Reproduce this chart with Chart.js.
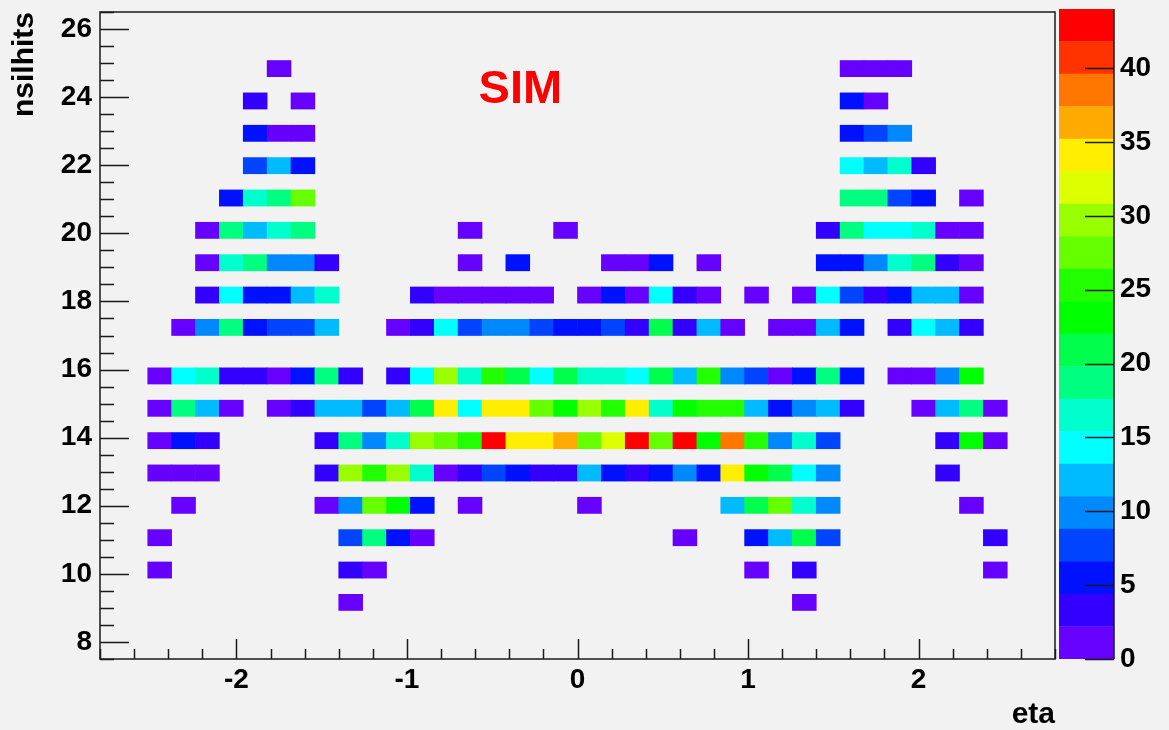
<!DOCTYPE html>
<html>
<head>
<meta charset="utf-8">
<title>nsilhits vs eta</title>
<script src="https://cdn.jsdelivr.net/npm/chart.js@4.4.1/dist/chart.umd.min.js"></script>
<style>
  html, body { margin: 0; padding: 0; background: #f2f2f2; }
  #wrap { position: relative; width: 1169px; height: 730px; }
  #main { position: absolute; left: 0; top: 0; }
  #zaxis { position: absolute; left: 1040px; top: 0; }
</style>
</head>
<body>
<div id="wrap">
  <canvas id="main" width="1169" height="730"></canvas>
  <canvas id="zaxis" width="129" height="730"></canvas>
</div>
<script>
// TH2 binning: 40 bins in eta, 40 bins in nsilhits
const ETA_MIN = -2.8, ETA_MAX = 2.8, ETA_BINS = 40;
const HITS_MIN = 7.5, HITS_MAX = 26.5, HITS_BINS = 40;

const xTicks = [-2, -1, 0, 1, 2];
const yTicks = [8, 10, 12, 14, 16, 18, 20, 22, 24, 26];
const zTicks = [0, 5, 10, 15, 20, 25, 30, 35, 40];

// bin contents per nsilhits value, one entry per eta bin (0 = empty)
const row25 = [0,0,0,0,0,0,0,1,0,0, 0,0,0,0,0,0,0,0,0,0, 0,0,0,0,0,0,0,0,0,0, 0,1,1,1,0,0,0,0,0,0];
const row24 = [0,0,0,0,0,0,3,0,1,0, 0,0,0,0,0,0,0,0,0,0, 0,0,0,0,0,0,0,0,0,0, 0,5,1,0,0,0,0,0,0,0];
const row23 = [0,0,0,0,0,0,5,1,1,0, 0,0,0,0,0,0,0,0,0,0, 0,0,0,0,0,0,0,0,0,0, 0,5,8,10,0,0,0,0,0,0];
const row22 = [0,0,0,0,0,0,8,12,5,0, 0,0,0,0,0,0,0,0,0,0, 0,0,0,0,0,0,0,0,0,0, 0,14,12,16,3,0,0,0,0,0];
const row21 = [0,0,0,0,0,5,16,19,27,0, 0,0,0,0,0,0,0,0,0,0, 0,0,0,0,0,0,0,0,0,0, 0,19,19,8,5,0,1,0,0,0];
const row20 = [0,0,0,0,1,19,12,16,19,0, 0,0,0,0,0,1,0,0,0,1, 0,0,0,0,0,0,0,0,0,0, 3,19,14,14,16,1,1,0,0,0];
const row19 = [0,0,0,0,1,16,19,10,10,3, 0,0,0,0,0,1,0,5,0,0, 0,1,1,5,0,1,0,0,0,0, 5,5,10,16,19,3,1,0,0,0];
const row18 = [0,0,0,0,3,14,5,5,12,16, 0,0,0,3,1,1,1,1,1,0, 1,5,1,14,3,1,0,1,0,1, 14,8,3,5,12,12,1,0,0,0];
const row17 = [0,0,0,1,10,19,5,8,8,12, 0,0,1,3,14,8,10,10,8,5, 5,8,3,21,3,12,1,0,1,1, 12,5,0,3,14,12,3,0,0,0];
const row16 = [0,0,1,14,16,3,3,1,5,19, 3,0,3,14,30,16,25,21,14,21, 16,16,14,21,12,25,10,8,1,5, 19,5,0,1,1,10,23,0,0,0];
const row15 = [0,0,1,19,12,1,0,1,3,12, 12,8,12,21,34,14,34,34,27,23, 30,25,34,16,23,25,25,12,5,10, 12,3,0,0,1,12,19,1,0,0];
const row14 = [0,0,1,5,3,0,0,0,0,3, 19,10,16,30,27,25,43,34,34,36, 27,32,44,27,43,23,38,25,10,16, 8,0,0,0,0,3,23,1,0,0];
const row13 = [0,0,1,1,1,0,0,0,0,3, 30,25,30,16,1,3,8,5,3,3, 12,5,3,5,10,5,34,23,21,14, 10,0,0,0,0,3,0,0,0,0];
const row12 = [0,0,0,1,0,0,0,0,0,1, 10,27,23,5,0,1,0,0,0,0, 1,0,0,0,0,0,12,21,27,16, 10,0,0,0,0,0,1,0,0,0];
const row11 = [0,0,1,0,0,0,0,0,0,0, 8,19,5,1,0,0,0,0,0,0, 0,0,0,0,1,0,0,5,12,21, 8,0,0,0,0,0,0,3,0,0];
const row10 = [0,0,1,0,0,0,0,0,0,0, 3,1,0,0,0,0,0,0,0,0, 0,0,0,0,0,0,0,1,0,3, 0,0,0,0,0,0,0,1,0,0];
const row9  = [0,0,0,0,0,0,0,0,0,0, 1,0,0,0,0,0,0,0,0,0, 0,0,0,0,0,0,0,0,0,1, 0,0,0,0,0,0,0,0,0,0];

const nsilhits = [25, 24, 23, 22, 21, 20, 19, 18, 17, 16, 15, 14, 13, 12, 11, 10, 9];
const rowCounts = [row25, row24, row23, row22, row21, row20, row19, row18, row17,
                   row16, row15, row14, row13, row12, row11, row10, row9];

// ROOT rainbow palette, 20 contour levels
const palette = ['#6600ff', '#3300ff', '#0011ff', '#0044ff', '#0088ff', '#00bbff', '#00ffff',
  '#00ffcc', '#00ff80', '#00ff4c', '#00ff00', '#22ff00', '#66ff00', '#99ff00', '#ddff00',
  '#ffee00', '#ffaa00', '#ff7700', '#ff3300', '#ff0000'];

const FAMILY = '"Liberation Sans", Arial, Helvetica, sans-serif';
const tickFont = { family: FAMILY, size: 28, weight: 'bold' };
const titleFont = { family: FAMILY, size: 30, weight: 'bold', lineHeight: 1 };

// build the cells from the histogram bins
const etaWidth = (ETA_MAX - ETA_MIN) / ETA_BINS;
const hitsWidth = (HITS_MAX - HITS_MIN) / HITS_BINS;
const cells = [];
nsilhits.forEach((n, r) => {
  const bin = Math.floor((n - HITS_MIN) / hitsWidth + 1e-9);
  const lo = HITS_MIN + bin * hitsWidth;
  rowCounts[r].forEach((c, i) => {
    if (c > 0) {
      cells.push({ x: ETA_MIN + (i + 0.5) * etaWidth, y: [lo, lo + hitsWidth], v: c });
    }
  });
});
const zMax = Math.max(...cells.map(c => c.v));
const zStep = zMax / palette.length;

function colourFor(v) {
  return palette[Math.min(palette.length - 1, Math.floor(v / zStep))];
}

// frame, inward tick marks and the SIM label
const framePlugin = {
  id: 'frame',
  afterDraw(chart) {
    const { ctx, chartArea: a } = chart;
    const x = chart.scales.x, y = chart.scales.y;
    ctx.save();
    ctx.strokeStyle = '#1a1a1a';
    ctx.lineWidth = 1.5;
    ctx.strokeRect(a.left, a.top, a.right - a.left, a.bottom - a.top);
    ctx.beginPath();
    for (let k = 0; k <= 28; k++) {
      const v = ETA_MIN + k * 0.2;
      const px = Math.round(x.getPixelForValue(v)) + 0.5;
      const major = Math.abs(v - Math.round(v)) < 1e-6;
      ctx.moveTo(px, a.bottom);
      ctx.lineTo(px, a.bottom - (major ? 20 : 10));
    }
    for (let k = 0; k <= 38; k++) {
      const v = HITS_MIN + k * 0.5;
      const py = Math.round(y.getPixelForValue(v)) + 0.5;
      const major = Math.abs(v / 2 - Math.round(v / 2)) < 1e-6;
      ctx.moveTo(a.left, py);
      ctx.lineTo(a.left + (major ? 29 : 14), py);
    }
    ctx.stroke();

    ctx.fillStyle = '#ff0000';
    ctx.font = 'bold 47px ' + FAMILY;
    ctx.textAlign = 'left';
    ctx.textBaseline = 'alphabetic';
    ctx.fillText('SIM', x.getPixelForValue(-0.58), y.getPixelForValue(23.84));
    ctx.restore();
  }
};

new Chart(document.getElementById('main'), {
  type: 'bar',
  data: {
    datasets: [{
      data: cells,
      backgroundColor: (c) => colourFor(c.raw ? c.raw.v : 0),
      borderWidth: 0,
      barPercentage: 1,
      categoryPercentage: 1
    }]
  },
  options: {
    responsive: false,
    animation: false,
    events: [],
    layout: { padding: { top: 12, right: 114, bottom: 0, left: 0 } },
    plugins: { legend: { display: false }, tooltip: { enabled: false } },
    scales: {
      x: {
        type: 'linear',
        min: ETA_MIN,
        max: ETA_MAX,
        offset: false,
        grid: { display: false, drawTicks: false },
        border: { display: false },
        afterBuildTicks: (s) => { s.ticks = xTicks.map(v => ({ value: v })); },
        afterFit: (s) => { s.height = 71; s.paddingLeft = 0; s.paddingRight = 0; },
        ticks: { padding: 4, autoSkip: false, maxRotation: 0, color: '#000', font: tickFont },
        title: { display: true, text: 'eta', align: 'end', color: '#000', font: titleFont,
                 padding: { top: 0, bottom: 0 } }
      },
      y: {
        type: 'linear',
        min: HITS_MIN,
        max: HITS_MAX,
        grid: { display: false, drawTicks: false },
        border: { display: false },
        afterBuildTicks: (s) => { s.ticks = yTicks.map(v => ({ value: v })); },
        afterFit: (s) => { s.width = 100; s.paddingTop = 0; s.paddingBottom = 0; },
        ticks: { padding: 8, autoSkip: false, color: '#000', font: tickFont },
        title: { display: true, text: 'nsilhits', align: 'end', color: '#000', font: titleFont,
                 padding: { top: 10, bottom: 0 } }
      }
    }
  },
  plugins: [framePlugin]
});

// colour scale on the right
const zAxisPlugin = {
  id: 'zframe',
  afterDraw(chart) {
    const { ctx, chartArea: a } = chart;
    const y = chart.scales.y;
    ctx.save();
    ctx.strokeStyle = '#1a1a1a';
    ctx.lineWidth = 1.5;
    ctx.beginPath();
    ctx.moveTo(a.right, a.top);
    ctx.lineTo(a.right, a.bottom);
    zTicks.forEach(v => {
      const py = Math.round(y.getPixelForValue(v)) + 0.5;
      ctx.moveTo(a.right - 29, py);
      ctx.lineTo(a.right, py);
    });
    ctx.stroke();
    ctx.restore();
  }
};

new Chart(document.getElementById('zaxis'), {
  type: 'bar',
  data: {
    labels: [''],
    datasets: palette.map(col => ({
      data: [zStep],
      backgroundColor: col,
      borderWidth: 0,
      barPercentage: 1,
      categoryPercentage: 1
    }))
  },
  options: {
    responsive: false,
    animation: false,
    events: [],
    layout: { padding: { top: 9, right: 0, bottom: 71, left: 19 } },
    plugins: { legend: { display: false }, tooltip: { enabled: false } },
    scales: {
      x: { display: false, stacked: true },
      y: {
        stacked: true,
        position: 'right',
        min: 0,
        max: zMax,
        grid: { display: false, drawTicks: false },
        border: { display: false },
        afterBuildTicks: (s) => { s.ticks = zTicks.map(v => ({ value: v })); },
        afterFit: (s) => { s.width = 55; s.paddingTop = 0; s.paddingBottom = 0; },
        ticks: { padding: 6, autoSkip: false, color: '#000', font: tickFont }
      }
    }
  },
  plugins: [zAxisPlugin]
});
</script>
</body>
</html>
